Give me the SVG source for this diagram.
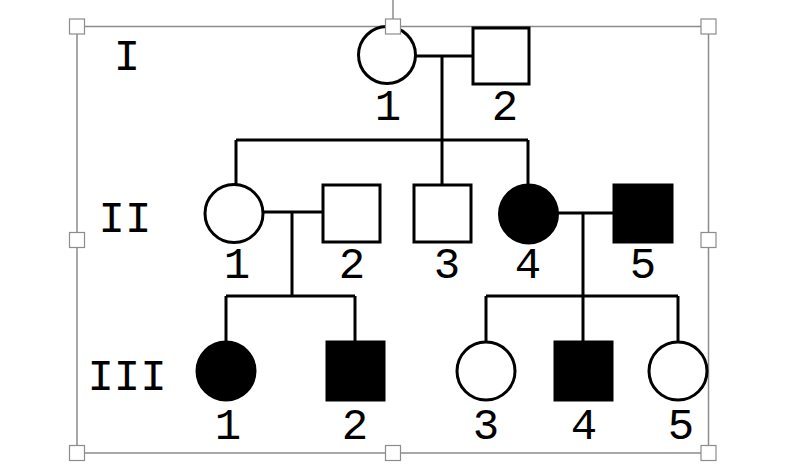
<svg xmlns="http://www.w3.org/2000/svg" width="812" height="468" viewBox="0 0 812 468">
<style>
.ln{stroke:#000;stroke-width:3;fill:none}
.op{stroke:#000;stroke-width:3;fill:#fff}
.af{stroke:#000;stroke-width:3;fill:#000}
.t{font-family:"Liberation Mono","Courier New",monospace;font-size:44px;fill:#000;text-anchor:middle}
.fr{stroke:#8c8c8c;stroke-width:1.5;fill:none}
.hd{stroke:#8c8c8c;stroke-width:1.2;fill:#fff}
</style>
<rect width="812" height="468" fill="#fff"/>
<g id="frame">
<line class="fr" x1="393" y1="0" x2="393" y2="19"/>
<rect class="fr" x="77" y="26.5" width="631.5" height="426.5"/>
</g>
<g id="connectors">
<line class="ln" x1="416" y1="56" x2="473" y2="56"/>
<line class="ln" x1="442" y1="56" x2="442" y2="185"/>
<line class="ln" x1="236" y1="140" x2="528" y2="140"/>
<line class="ln" x1="236" y1="140" x2="236" y2="184"/>
<line class="ln" x1="528" y1="140" x2="528" y2="185"/>
<line class="ln" x1="263" y1="212" x2="323" y2="212"/>
<line class="ln" x1="292" y1="212" x2="292" y2="296"/>
<line class="ln" x1="226" y1="296" x2="355" y2="296"/>
<line class="ln" x1="226" y1="296" x2="226" y2="342"/>
<line class="ln" x1="355" y1="296" x2="355" y2="342"/>
<line class="ln" x1="558" y1="213" x2="613" y2="213"/>
<line class="ln" x1="583" y1="213" x2="583" y2="296"/>
<line class="ln" x1="486" y1="296" x2="678" y2="296"/>
<line class="ln" x1="486" y1="296" x2="486" y2="342"/>
<line class="ln" x1="583" y1="296" x2="583" y2="342"/>
<line class="ln" x1="678" y1="296" x2="678" y2="342"/>
</g>
<g id="gen-labels">
<text class="t" x="127" y="70">I</text>
<text class="t" x="125" y="232">II</text>
<text class="t" x="127" y="390">III</text>
</g>
<g id="I-1"><circle class="op" cx="387" cy="55" r="28.5"/><text class="t" x="388" y="120">1</text></g>
<g id="I-2"><rect class="op" x="473" y="28" width="56" height="56"/><text class="t" x="505" y="120">2</text></g>
<g id="II-1"><circle class="op" cx="234" cy="213.5" r="29"/><text class="t" x="237" y="278">1</text></g>
<g id="II-2"><rect class="op" x="323" y="185" width="57" height="57"/><text class="t" x="352" y="278">2</text></g>
<g id="II-3"><rect class="op" x="414" y="185" width="57" height="57"/><text class="t" x="447" y="278">3</text></g>
<g id="II-4"><circle class="af" cx="528.5" cy="214" r="29"/><text class="t" x="528" y="278">4</text></g>
<g id="II-5"><rect class="af" x="614" y="185" width="58" height="57"/><text class="t" x="643" y="278">5</text></g>
<g id="III-1"><circle class="af" cx="226" cy="371" r="29"/><text class="t" x="228" y="439">1</text></g>
<g id="III-2"><rect class="af" x="327" y="342" width="57" height="58"/><text class="t" x="355" y="439">2</text></g>
<g id="III-3"><circle class="op" cx="486" cy="371" r="29"/><text class="t" x="486" y="439">3</text></g>
<g id="III-4"><rect class="af" x="555" y="342" width="57" height="58"/><text class="t" x="584" y="439">4</text></g>
<g id="III-5"><circle class="op" cx="678" cy="371" r="29"/><text class="t" x="681" y="439">5</text></g>
<g id="handles">
<rect class="hd" x="69.5" y="19" width="15" height="15"/>
<rect class="hd" x="385.5" y="19" width="15" height="15"/>
<rect class="hd" x="701" y="19" width="15" height="15"/>
<rect class="hd" x="69.5" y="232.5" width="15" height="15"/>
<rect class="hd" x="701" y="232.5" width="15" height="15"/>
<rect class="hd" x="69.5" y="445.5" width="15" height="15"/>
<rect class="hd" x="385.5" y="445.5" width="15" height="15"/>
<rect class="hd" x="701" y="445.5" width="15" height="15"/>
</g>
</svg>
